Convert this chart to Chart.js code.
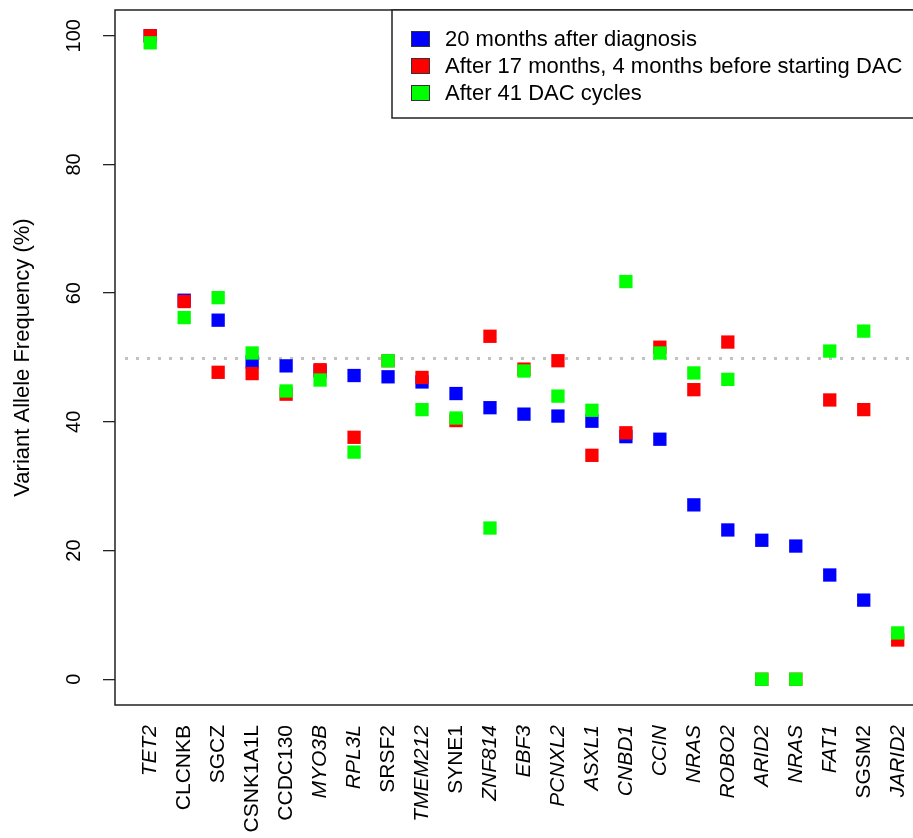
<!DOCTYPE html>
<html>
<head>
<meta charset="utf-8">
<script src="https://cdn.jsdelivr.net/npm/chart.js@4/dist/chart.umd.min.js"></script>
<style>
  html, body { margin: 0; padding: 0; background: #fff; overflow: hidden; }
  canvas { display: block; }
</style>
</head>
<body>
<canvas id="chart" width="913" height="838"></canvas>
<script>
// genes on the x axis (NRAS appears twice, two different variants)
const genes = ['TET2', 'CLCNKB', 'SGCZ', 'CSNK1A1L', 'CCDC130', 'MYO3B', 'RPL3L', 'SRSF2',
  'TMEM212', 'SYNE1', 'ZNF814', 'EBF3', 'PCNXL2', 'ASXL1', 'CNBD1', 'CCIN', 'NRAS',
  'ROBO2', 'ARID2', 'NRAS', 'FAT1', 'SGSM2', 'JARID2'];
// label positions printed upright, every other one is italic
const uprightIdx = [1, 2, 3, 4, 7, 9, 21];

// variant allele frequency (%) per sample
const vaf20m = [100, 58.9, 55.8, 49.3, 48.7, 47.9, 47.2, 47.0, 46.2, 44.4, 42.2, 41.2,
  40.9, 40.1, 37.7, 37.3, 27.1, 23.2, 21.6, 20.7, 16.2, 12.3, null];
const vaf17m = [100, 58.7, 47.7, 47.5, 44.3, 48.1, 37.6, 49.5, 46.9, 40.2, 53.3, 48.2,
  49.5, 34.8, 38.3, 51.6, 45.0, 52.4, 0, 0, 43.4, 41.9, 6.1];
const vafDac = [98.9, 56.2, 59.3, 50.7, 44.8, 46.5, 35.3, 49.5, 41.9, 40.6, 23.5, 47.9,
  44.0, 41.8, 61.8, 50.7, 47.6, 46.6, 0, 0, 51.0, 54.1, 7.2];

const seriesLabels = ['20 months after diagnosis',
  'After 17 months, 4 months before starting DAC',
  'After 41 DAC cycles'];
const seriesColors = ['#0000ff', '#ff0000', '#00ff00'];

const yTicks = [0, 20, 40, 60, 80, 100];
const refLevel = 50;

const FONT = '"Liberation Sans", Arial, Helvetica, sans-serif';

function pts(arr) {
  return arr.map((v, i) => ({ x: i + 1, y: v }));
}

function ds(i, arr, order) {
  return {
    label: seriesLabels[i],
    data: pts(arr),
    order: order,
    pointStyle: 'rect',
    pointRadius: 9.4,
    pointBorderWidth: 0,
    pointBackgroundColor: seriesColors[i],
    showLine: false
  };
}

/* dotted 50% line, plot box and R-style legend */
const framePlugin = {
  id: 'frame',
  beforeDatasetsDraw(chart) {
    const { ctx, chartArea: a, scales: { y } } = chart;
    const py = Math.round(y.getPixelForValue(refLevel)) + 0.5;
    ctx.save();
    ctx.strokeStyle = '#c2c2c2';
    ctx.lineWidth = 3;
    ctx.setLineDash([3, 8]);
    ctx.beginPath();
    ctx.moveTo(a.left + 10, py);
    ctx.lineTo(a.right, py);
    ctx.stroke();
    ctx.restore();
  },
  afterDraw(chart) {
    const { ctx, chartArea: a } = chart;
    ctx.save();
    ctx.strokeStyle = '#222';
    ctx.lineWidth = 1.5;
    ctx.beginPath();
    ctx.moveTo(a.right + 5, a.top);
    ctx.lineTo(a.left, a.top);
    ctx.lineTo(a.left, a.bottom);
    ctx.lineTo(a.right + 5, a.bottom);
    ctx.stroke();

    // legend, top right corner of the plot
    const lx = 392, lb = 118;
    ctx.fillStyle = '#fff';
    ctx.fillRect(lx, a.top, a.right - lx + 5, lb - a.top);
    ctx.strokeRect(lx, a.top, a.right - lx + 20, lb - a.top);
    const rows = [39, 66, 93];
    ctx.font = '22px ' + FONT;
    ctx.textBaseline = 'middle';
    ctx.textAlign = 'left';
    seriesLabels.forEach((lab, i) => {
      ctx.fillStyle = seriesColors[i];
      ctx.fillRect(411, rows[i] - 8, 19, 16);
      ctx.lineWidth = 1;
      ctx.strokeStyle = '#333';
      ctx.strokeRect(411.5, rows[i] - 7.5, 18, 15);
      ctx.fillStyle = '#000';
      ctx.fillText(lab, 445, rows[i] + 1);
    });
    ctx.restore();
  }
};

new Chart(document.getElementById('chart'), {
  type: 'scatter',
  data: {
    datasets: [
      ds(0, vaf20m, 3),
      ds(1, vaf17m, 2),
      ds(2, vafDac, 1)
    ]
  },
  options: {
    responsive: false,
    animation: false,
    events: [],
    layout: { autoPadding: false, padding: { top: 10, left: 0, right: 0, bottom: 0 } },
    plugins: {
      legend: { display: false },
      tooltip: { enabled: false }
    },
    scales: {
      x: {
        type: 'linear',
        min: -0.036,
        max: 23.45,
        afterBuildTicks: s => { s.ticks = genes.map((g, i) => ({ value: i + 1 })); },
        afterFit: s => { s.height = 133; s.paddingLeft = 0; s.paddingRight = 0; },
        grid: { display: false, drawTicks: false },
        border: { display: false },
        ticks: {
          autoSkip: false,
          minRotation: 90,
          maxRotation: 90,
          padding: 20,
          color: '#000',
          font: c => ({ family: FONT, size: 21, style: uprightIdx.includes(c.index) ? 'normal' : 'italic' }),
          callback: (v, i) => genes[i]
        }
      },
      y: {
        min: -4,
        max: 104,
        afterBuildTicks: s => { s.ticks = yTicks.map(v => ({ value: v })); },
        afterFit: s => { s.width = 115; s.paddingTop = 0; s.paddingBottom = 0; },
        grid: { display: true, drawOnChartArea: false, drawTicks: true, tickLength: 12, color: '#222', lineWidth: 1.3 },
        border: { display: false },
        ticks: {
          minRotation: 90,
          maxRotation: 90,
          crossAlign: 'center',
          padding: 12,
          color: '#000',
          font: { family: FONT, size: 20 }
        },
        title: {
          display: true,
          text: 'Variant Allele Frequency (%)',
          color: '#000',
          font: { family: FONT, size: 22 },
          padding: { top: 10, bottom: 0 }
        }
      }
    }
  },
  plugins: [framePlugin]
});
</script>
</body>
</html>
